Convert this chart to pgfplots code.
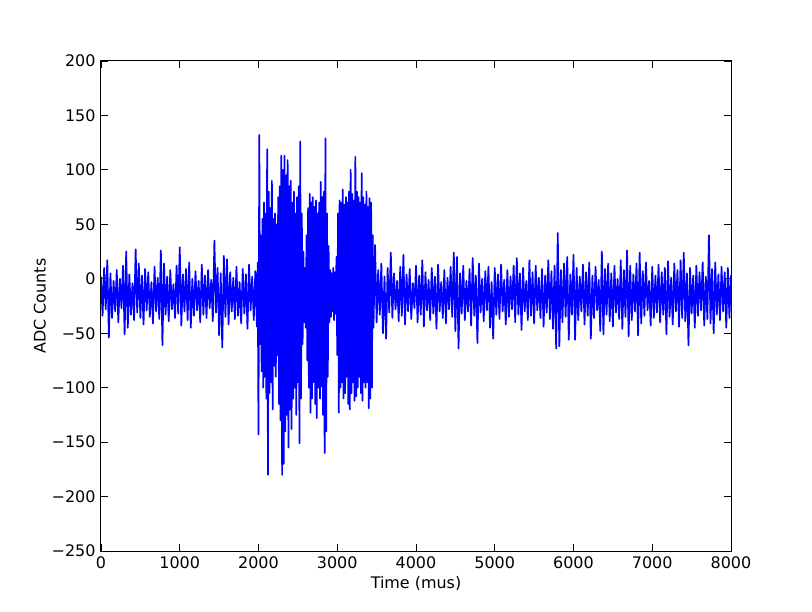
\documentclass[border=0pt]{standalone}
\usepackage{fontspec}
\setmainfont{DejaVu Sans}
\usepackage{pgfplots}
\pgfplotsset{compat=1.18}
\begin{document}
\fontsize{16}{19}\selectfont
\begin{tikzpicture}
\begin{axis}[
  scale only axis, width=630bp, height=490bp,
  xmin=0, xmax=8000, ymin=-250, ymax=200,
  xtick={0,1000,...,8000}, ytick={-250,-200,...,200},
  /pgf/number format/assume math mode=true,
  /pgf/number format/1000 sep={},
  scaled x ticks=false, scaled y ticks=false,
  xticklabel={\pgfmathprintnumber{\tick}},
  yticklabels={−250,−200,−150,−100,−50,0,50,100,150,200},
  tick label style={font=\fontsize{16}{19}\selectfont},
  label style={font=\fontsize{16}{19}\selectfont},
  xlabel style={yshift=3bp},
  ylabel style={yshift=-5bp},
  tick style={black, line width=0.8bp},
  major tick length=7bp,
  axis line style={line width=1bp},
  xlabel={Time (mus)}, ylabel={ADC Counts},
]
\addplot[color={rgb,1:red,0;green,0;blue,1}, line width=1.7bp, line join=round] coordinates {
(0,2)(20,-34)(40,10)(60,-28)(80,17)(100,-54)(120,5)(140,-36)(160,-2)(180,-30)
(200,8)(220,-40)(240,0)(260,-27)(280,12)(300,-51)(320,25)(340,-45)(360,4)(380,-33)
(400,-4)(420,-38)(440,27)(460,-31)(480,14)(500,-36)(520,3)(540,-42)(560,9)(580,-29)
(600,6)(620,-35)(640,-3)(660,-41)(680,11)(700,-30)(720,1)(740,-37)(760,26)(780,-61)
(800,14)(820,-33)(840,2)(860,-39)(880,8)(900,-28)(920,-5)(940,-36)(960,12)(980,-32)
(1000,29)(1020,-43)(1040,4)(1060,-30)(1080,9)(1100,-38)(1120,15)(1140,-45)(1160,0)(1180,-34)
(1200,7)(1220,-29)(1240,-2)(1260,-40)(1280,13)(1300,-33)(1320,3)(1340,-36)(1360,8)(1380,-27)
(1400,-1)(1420,-39)(1440,35)(1460,-31)(1480,10)(1500,-52)(1520,5)(1540,-63)(1560,21)(1580,-35)
(1600,18)(1620,-42)(1640,6)(1660,-30)(1680,1)(1700,-37)(1720,11)(1740,-34)(1760,-3)(1780,-41)
(1800,9)(1820,-32)(1840,4)(1860,-46)(1880,13)(1900,-29)(1920,2)(1940,-38)(1960,7)(1980,-44)
(1990,15)(2000,-143)(2010,132)(2020,-60)(2030,40)(2040,-85)(2050,55)(2060,-100)(2070,70)(2080,-90)
(2090,60)(2100,-110)(2110,119)(2120,-180)(2130,80)(2140,-105)(2150,65)(2160,-95)(2170,90)(2180,-120)
(2190,55)(2200,-80)(2210,60)(2220,-90)(2230,50)(2240,-70)(2250,75)(2260,-115)(2270,85)(2280,-130)
(2290,113)(2300,-180)(2310,100)(2320,-170)(2330,113)(2340,-140)(2350,95)(2360,-125)(2370,109)(2380,-155)
(2390,85)(2400,-120)(2410,90)(2420,-138)(2430,70)(2440,-110)(2450,80)(2460,-100)(2470,60)(2480,-125)
(2490,75)(2500,-95)(2510,85)(2520,-151)(2530,126)(2540,-110)(2550,60)(2560,-60)(2570,25)(2580,-40)
(2590,10)(2600,-45)(2610,40)(2620,-75)(2630,65)(2640,-100)(2650,78)(2660,-123)(2670,70)(2680,-110)
(2690,75)(2700,-95)(2710,66)(2720,-115)(2730,72)(2740,-128)(2750,60)(2760,-100)(2770,70)(2780,-110)
(2790,89)(2800,-99)(2810,75)(2820,-125)(2830,80)(2840,-160)(2850,129)(2860,-140)(2870,60)(2880,-90)
(2890,30)(2900,-40)(2910,8)(2920,-35)(2930,5)(2940,-30)(2950,10)(2960,-38)(2970,6)(2980,-32)
(2990,20)(3000,-70)(3010,60)(3020,-123)(3030,72)(3040,-100)(3050,70)(3060,-95)(3070,82)(3080,-110)
(3090,68)(3100,-105)(3110,75)(3120,-90)(3130,70)(3140,-115)(3150,80)(3160,-120)(3170,100)(3180,-105)
(3190,78)(3200,-95)(3210,72)(3220,-112)(3230,112)(3240,-108)(3250,80)(3260,-100)(3270,75)(3280,-90)
(3290,70)(3300,-105)(3310,97)(3320,-112)(3330,75)(3340,-95)(3350,68)(3360,-100)(3370,80)(3380,-95)
(3390,66)(3400,-119)(3410,74)(3420,-110)(3430,70)(3440,-100)(3450,40)(3460,-45)
(3480,31)(3500,-40)(3520,8)(3540,-33)(3560,14)(3580,-50)(3600,2)(3620,-55)(3640,10)(3660,-31)
(3680,24)(3700,-36)(3720,5)(3740,-28)(3760,-2)(3780,-39)(3800,11)(3820,-34)(3840,22)(3860,-42)
(3880,4)(3900,-30)(3920,9)(3940,-37)(3960,-4)(3980,-27)(4000,12)(4020,-40)(4040,3)(4060,-33)
(4080,17)(4100,-44)(4120,6)(4140,-29)(4160,-1)(4180,-38)(4200,10)(4220,-32)(4240,2)(4260,-46)
(4280,13)(4300,-30)(4320,-3)(4340,-36)(4360,8)(4380,-41)(4400,1)(4420,-28)(4440,11)(4460,-35)
(4480,24)(4500,-48)(4520,20)(4540,-64)(4560,5)(4580,-32)(4600,12)(4620,-38)(4640,-2)(4660,-30)
(4680,9)(4700,-43)(4720,19)(4740,-34)(4760,3)(4780,-59)(4800,14)(4820,-31)(4840,0)(4860,-39)
(4880,7)(4900,-29)(4920,11)(4940,-45)(4960,-3)(4980,-55)(5000,10)(5020,-33)(5040,4)(5060,-37)
(5080,13)(5100,-30)(5120,-1)(5140,-42)(5160,8)(5180,-35)(5200,2)(5220,-28)(5240,12)(5260,-40)
(5280,19)(5300,-33)(5320,5)(5340,-47)(5360,10)(5380,-30)(5400,-2)(5420,-38)(5440,17)(5460,-34)
(5480,6)(5500,-41)(5520,12)(5540,-29)(5560,1)(5580,-36)(5600,9)(5620,-44)(5640,3)(5660,-31)
(5680,17)(5700,-37)(5720,7)(5740,-46)(5760,12)(5780,-64)(5800,42)(5820,-62)(5840,8)(5860,-40)
(5880,14)(5900,-35)(5920,20)(5940,-56)(5960,4)(5980,-33)(6000,22)(6020,-56)(6040,10)(6060,-38)
(6080,2)(6100,-30)(6120,13)(6140,-42)(6160,6)(6180,-34)(6200,15)(6220,-55)(6240,3)(6260,-36)
(6280,11)(6300,-29)(6320,-1)(6340,-48)(6360,25)(6380,-51)(6400,9)(6420,-33)(6440,14)(6460,-39)
(6480,5)(6500,-44)(6520,12)(6540,-31)(6560,0)(6580,-37)(6600,17)(6620,-46)(6640,8)(6660,-35)
(6680,26)(6700,-53)(6720,12)(6740,-38)(6760,4)(6780,-30)(6800,14)(6820,-52)(6840,24)(6860,-41)
(6880,7)(6900,-34)(6920,15)(6940,-29)(6960,-2)(6980,-43)(7000,11)(7020,-36)(7040,3)(7060,-31)
(7080,13)(7100,-40)(7120,6)(7140,-33)(7160,10)(7180,-51)(7200,16)(7220,-35)(7240,1)(7260,-42)
(7280,14)(7300,-30)(7320,8)(7340,-44)(7360,17)(7380,-36)(7400,24)(7420,-39)(7440,5)(7460,-61)
(7480,10)(7500,-32)(7520,3)(7540,-45)(7560,12)(7580,-34)(7600,6)(7620,-29)(7640,15)(7660,-43)
(7680,2)(7700,-37)(7720,40)(7740,-41)(7760,9)(7780,-50)(7800,15)(7820,-33)(7840,4)(7860,-38)
(7880,11)(7900,-30)(7920,6)(7940,-45)(7960,10)(7980,-36)(8000,3)
};
\end{axis}
\pgfresetboundingbox
\path ([shift={(-101bp,-61bp)}]current axis.south west) rectangle ([shift={(81bp,61bp)}]current axis.north east);
\end{tikzpicture}
\end{document}
